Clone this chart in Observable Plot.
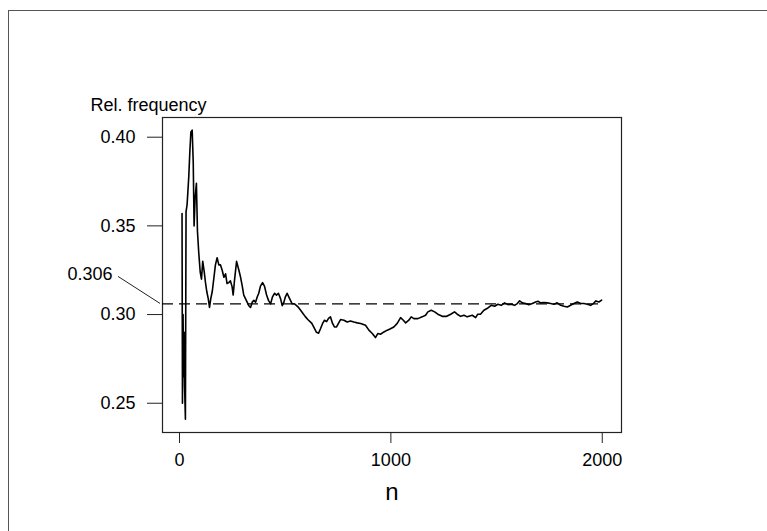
<!DOCTYPE html>
<html>
<head>
<meta charset="utf-8">
<script src="https://cdn.jsdelivr.net/npm/d3@7"></script>
<script src="https://cdn.jsdelivr.net/npm/@observablehq/plot@0.6"></script>
<style>
  html, body { margin: 0; padding: 0; background: #fff; }
  #wrap { position: relative; width: 767px; height: 531px; overflow: hidden; }
  #border { position: absolute; left: 8px; top: 10px; width: 900px; height: 700px;
            border-top: 1.5px solid #555; border-left: 1.5px solid #555; pointer-events: none; }
  #chart { position: absolute; left: 0; top: 0; }
</style>
</head>
<body>
<div id="wrap"><div id="border"></div><div id="chart"></div></div>
<script>
// Trial number n
const nValues = [12, 14, 17, 19, 22, 24, 28, 31, 36, 44, 49, 54, 60, 65, 69, 74, 80, 85, 91, 98, 104,
  110, 117, 123, 129, 136, 142, 148, 155, 162, 170, 178, 186, 194, 202, 210, 218, 225, 233, 241, 249,
  254, 260, 270, 281, 289, 297, 304, 312, 320, 328, 336, 344, 352, 360, 368, 375, 383, 393, 402, 412,
  421, 431, 440, 450, 459, 468, 478, 486, 494, 501, 509, 517, 525, 533, 544, 554, 563, 573, 585, 596,
  607, 626, 639, 648, 658, 667, 677, 686, 696, 705, 714, 724, 733, 743, 752, 762, 778, 793, 809, 825,
  841, 857, 880, 896, 912, 927, 938, 951, 967, 983, 998, 1014, 1030, 1046, 1059, 1070, 1085, 1096, 1109, 1128,
  1148, 1164, 1175, 1191, 1207, 1222, 1243, 1264, 1283, 1301, 1314, 1330, 1346, 1361, 1385, 1401, 1411, 1424, 1440, 1459,
  1475, 1491, 1506, 1522, 1538, 1554, 1570, 1585, 1598, 1609, 1622, 1637, 1653, 1669, 1685, 1696, 1708, 1724, 1740, 1756,
  1771, 1787, 1803, 1819, 1835, 1850, 1866, 1882, 1898, 1914, 1929, 1945, 1958, 1970, 1984, 1997];
// Relative frequency after n trials
const relFreq = [0.357, 0.250, 0.300, 0.265, 0.290, 0.260, 0.241, 0.358, 0.362, 0.378, 0.392, 0.403, 0.404, 0.386, 0.350, 0.366, 0.374, 0.347, 0.335, 0.324, 0.320,
  0.330, 0.324, 0.318, 0.313, 0.309, 0.304, 0.309, 0.313, 0.320, 0.328, 0.332, 0.328, 0.328, 0.325, 0.321, 0.323, 0.3175, 0.318, 0.319, 0.3156,
  0.311, 0.319, 0.330, 0.325, 0.321, 0.316, 0.311, 0.309, 0.307, 0.305, 0.304, 0.307, 0.308, 0.307, 0.310, 0.312, 0.316, 0.318, 0.316, 0.311,
  0.308, 0.306, 0.310, 0.312, 0.311, 0.312, 0.309, 0.305, 0.307, 0.310, 0.312, 0.310, 0.308, 0.306, 0.306, 0.305, 0.304, 0.3024, 0.3005, 0.2987,
  0.2972, 0.295, 0.292, 0.290, 0.2895, 0.292, 0.295, 0.2968, 0.296, 0.2978, 0.2987, 0.295, 0.293, 0.293, 0.295, 0.2972, 0.2968, 0.2958, 0.2964, 0.2958,
  0.2953, 0.295, 0.294, 0.2912, 0.2893, 0.287, 0.2893, 0.2889, 0.2902, 0.2912, 0.292, 0.293, 0.295, 0.2983, 0.2968, 0.2953, 0.2968, 0.2987, 0.2977, 0.2977,
  0.2987, 0.2996, 0.3015, 0.3024, 0.3015, 0.3002, 0.299, 0.299, 0.3002, 0.3015, 0.3002, 0.299, 0.2996, 0.2987, 0.2996, 0.2983, 0.3002, 0.3002, 0.3024, 0.3037,
  0.3052, 0.3047, 0.3058, 0.3052, 0.3066, 0.3056, 0.3058, 0.3052, 0.3062, 0.3077, 0.3066, 0.3062, 0.3056, 0.3062, 0.3071, 0.3075, 0.3066, 0.3068, 0.3066, 0.3062,
  0.3058, 0.3066, 0.3052, 0.3047, 0.3043, 0.3052, 0.3062, 0.3071, 0.3062, 0.3062, 0.3058, 0.3052, 0.3062, 0.3077, 0.3071, 0.3081];

const refValue = 0.306;
const refLabel = "0.306";
const xTicks = [0, 1000, 2000];
const yTicks = [0.25, 0.30, 0.35, 0.40];
const xDomain = [-80.4, 2091];
const yDomain = [0.2335, 0.4111];
const yTitle = "Rel. frequency";
const xTitle = "n";

const data = nValues.map((n, i) => ({n, p: relFreq[i]}));

const leader = (index, scales) => {
  const x0 = scales.x(xDomain[0]);
  const y0 = scales.y(refValue);
  return d3.create("svg:line")
    .attr("x1", x0 - 44).attr("y1", y0 - 27)
    .attr("x2", x0 - 2).attr("y2", y0)
    .attr("stroke", "#222").attr("stroke-width", 1)
    .node();
};

const chart = Plot.plot({
  width: 767,
  height: 531,
  marginLeft: 162,
  marginRight: 146,
  marginTop: 117,
  marginBottom: 99,
  style: {fontFamily: "'Liberation Sans', Arial, sans-serif", color: "#000", background: "transparent"},
  x: {domain: xDomain},
  y: {domain: yDomain},
  marks: [
    Plot.frame({stroke: "#222", strokeWidth: 1.2}),
    Plot.axisY(yTicks, {tickSize: 15, tickPadding: 12, tickFormat: d3.format(".2f"), fontSize: 18, label: null, stroke: "#222"}),
    Plot.axisX(xTicks, {tickSize: 11, tickPadding: 10, tickFormat: d => String(d), fontSize: 18, label: null, stroke: "#222"}),
    Plot.ruleY([refValue], {x1: xDomain[0], x2: 2000, stroke: "#000", strokeWidth: 1.2, strokeDasharray: "11,6"}),
    Plot.line(data, {x: "n", y: "p", stroke: "#000", strokeWidth: 1.6}),
    Plot.text([refLabel], {x: xDomain[0], y: refValue, text: d => d, dx: -50, dy: -30, textAnchor: "end", fontSize: 18}),
    leader,
    Plot.text([yTitle], {frameAnchor: "top-left", text: d => d, dx: -72, dy: -7, textAnchor: "start", lineAnchor: "bottom", fontSize: 18}),
    Plot.text([xTitle], {frameAnchor: "bottom", text: d => d, dy: 67, lineAnchor: "bottom", fontSize: 24})
  ]
});
document.getElementById("chart").appendChild(chart);
</script>
</body>
</html>
